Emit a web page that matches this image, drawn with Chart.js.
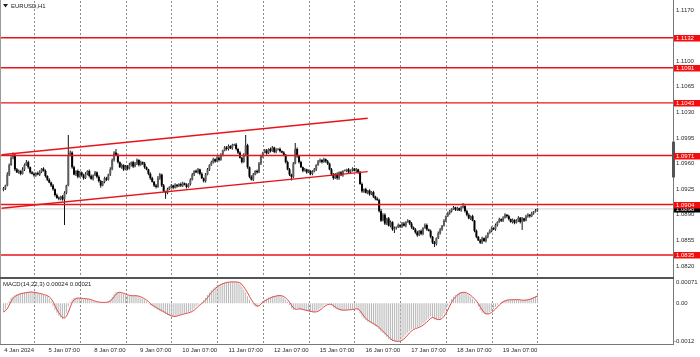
<!DOCTYPE html>
<html><head><meta charset="utf-8">
<script src="https://cdn.jsdelivr.net/npm/chart.js@4.4.1/dist/chart.umd.min.js"></script>
<style>html,body{margin:0;padding:0;background:#fff;overflow:hidden}canvas{display:block}</style>
</head><body>
<canvas id="c" width="700" height="357"></canvas>
<script>
// ---------- DATA ----------
const symbolTitle = 'EURUSD,H1';
const macdTitle = 'MACD(14,22,3)';
// time labels (one per trading day, at 07:00; last one is the latest bar)
const dayLabels = ['4 Jan 2024','5 Jan 07:00','8 Jan 07:00','9 Jan 07:00','10 Jan 07:00','11 Jan 07:00',
  '12 Jan 07:00','15 Jan 07:00','16 Jan 07:00','17 Jan 07:00','18 Jan 07:00','19 Jan 07:00'];
const priceTicks = [1.1170,1.1100,1.1065,1.1030,1.0995,1.0960,1.0925,1.0890,1.0855,1.0820];
const macdTicks = [0.00071, 0, -0.0012];
const levelPrices = [1.1132,1.1091,1.1043,1.0971,1.0904,1.0835];
// ascending channel: [bar index, price]
const channelUpper = [[-1,1.0972],[191,1.1022]];
const channelLower = [[-1,1.0899],[191,1.0949]];
const firstOpen = 1.0924;
// hourly closes, 3 Jan 15:00 .. 19 Jan 07:00
const closes = [
1.0926,1.0930,1.0945,1.0958,1.0968,1.0972,1.0952,1.0948,1.0950,1.0946,1.0952,1.0958,1.0962,1.0955,1.0948,1.0946,1.0944,1.0947,1.0945,1.0949,
1.0953,1.0950,1.0943,1.0938,1.0934,1.0930,1.0925,1.0917,1.0913,1.0912,1.0915,1.0911,1.0920,1.0930,1.0972,1.0975,1.0955,1.0945,1.0950,1.0942,
1.0948,1.0944,1.0940,1.0946,1.0950,1.0943,1.0939,1.0944,1.0948,1.0942,1.0936,1.0930,1.0935,1.0940,1.0938,1.0945,1.0952,1.0965,1.0975,1.0972,
1.0962,1.0955,1.0958,1.0952,1.0956,1.0953,1.0958,1.0962,1.0956,1.0960,1.0965,1.0958,1.0962,1.0960,1.0955,1.0952,1.0946,1.0940,1.0935,1.0930,
1.0928,1.0940,1.0945,1.0930,1.0922,1.0920,1.0925,1.0928,1.0930,1.0927,1.0931,1.0929,1.0932,1.0930,1.0933,1.0931,1.0928,1.0932,1.0938,1.0945,
1.0950,1.0948,1.0952,1.0946,1.0940,1.0936,1.0945,1.0952,1.0958,1.0962,1.0966,1.0963,1.0968,1.0965,1.0972,1.0978,1.0982,1.0980,1.0984,1.0981,
1.0985,1.0986,1.0980,1.0975,1.0968,1.0962,1.0972,1.0985,1.0955,1.0942,1.0938,1.0945,1.0950,1.0948,1.0960,1.0970,1.0975,1.0978,1.0974,1.0980,
1.0977,1.0982,1.0976,1.0979,1.0980,1.0977,1.0975,1.0972,1.0962,1.0952,1.0945,1.0942,1.0960,1.0980,1.0970,1.0962,1.0955,1.0950,1.0952,1.0948,
1.0950,1.0946,1.0949,1.0952,1.0958,1.0963,1.0965,1.0962,1.0966,1.0963,1.0960,1.0952,1.0945,1.0940,1.0946,1.0940,1.0948,1.0944,1.0950,1.0950,
1.0952,1.0948,1.0951,1.0953,1.0950,1.0952,1.0948,1.0932,1.0922,1.0925,1.0920,1.0923,1.0918,1.0921,1.0915,1.0912,1.0910,1.0895,1.0882,1.0890,
1.0878,1.0885,1.0875,1.0880,1.0870,1.0872,1.0873,1.0876,1.0874,1.0878,1.0875,1.0880,1.0882,1.0878,1.0873,1.0870,1.0866,1.0862,1.0868,1.0864,
1.0872,1.0876,1.0870,1.0868,1.0860,1.0852,1.0850,1.0858,1.0865,1.0870,1.0875,1.0882,1.0888,1.0892,1.0895,1.0898,1.0900,1.0897,1.0899,1.0896,
1.0900,1.0902,1.0895,1.0890,1.0885,1.0888,1.0882,1.0868,1.0860,1.0855,1.0852,1.0858,1.0854,1.0860,1.0865,1.0868,1.0872,1.0870,1.0876,1.0880,
1.0884,1.0882,1.0886,1.0890,1.0888,1.0884,1.0880,1.0883,1.0879,1.0882,1.0886,1.0880,1.0885,1.0882,1.0888,1.0890,1.0888,1.0892,1.0894,1.0896,
1.0898];
// wick lengths in pips above / below the candle body
const upperWick = [
2,1,3,2,2,3,1,2,2,1,3,2,3,2,1,2,2,1,2,2,
1,2,2,1,2,1,2,1,2,2,1,2,2,1,27,3,2,2,1,2,
2,1,2,2,1,2,2,1,2,1,2,2,1,2,2,1,3,2,2,5,
2,1,2,1,2,2,3,1,2,2,2,1,2,1,2,1,1,2,2,1,
2,3,2,1,2,1,2,1,2,1,2,1,1,2,2,1,2,1,2,2,
1,2,2,1,2,1,2,2,1,2,2,1,2,2,2,1,2,2,2,1,
2,1,2,1,2,1,2,14,2,1,2,2,1,2,2,2,1,2,2,1,
2,2,1,2,1,2,1,2,1,2,2,1,2,8,2,1,2,1,2,1,
2,1,2,2,1,2,2,1,2,1,2,1,2,2,1,2,1,2,1,2,
1,2,1,2,1,2,1,2,2,1,2,1,2,1,2,1,2,2,3,2,
2,1,2,2,1,2,1,2,1,2,2,1,2,1,2,1,2,2,1,2,
1,2,2,1,2,1,2,1,2,2,1,2,1,2,2,1,2,1,2,1,
2,4,1,2,2,1,2,1,2,1,2,2,1,2,1,2,2,1,2,1,
2,1,2,2,1,2,1,2,1,2,2,1,2,1,2,2,1,2,1,2,
1];
const lowerWick = [
2,2,1,2,1,2,2,1,2,2,1,2,1,2,2,1,2,2,1,2,
2,1,2,2,1,2,2,2,1,2,2,2,35,2,1,2,2,1,2,2,
1,2,2,1,2,2,1,2,1,2,2,3,1,2,2,1,2,1,2,1,
2,1,2,2,1,2,1,2,2,1,2,2,1,2,2,1,2,2,1,2,
2,1,2,2,1,8,2,1,2,2,1,2,1,2,2,1,2,1,2,1,
2,1,2,2,1,2,2,1,2,1,2,2,1,2,1,2,1,2,2,1,
2,1,2,2,1,2,1,2,2,2,1,2,1,2,1,2,2,1,2,1,
2,1,2,2,1,2,1,2,2,1,2,5,2,1,2,2,1,2,1,2,
1,2,2,1,2,1,2,2,1,2,2,1,2,2,1,2,2,1,2,1,
2,1,2,2,1,2,2,1,2,2,1,2,2,1,2,2,1,2,2,1,
2,2,1,2,2,5,2,1,2,2,1,2,1,2,2,1,2,2,1,2,
2,1,2,1,2,2,4,2,1,2,2,1,2,1,2,2,1,2,2,1,
2,1,2,2,1,2,1,2,2,1,2,2,1,2,2,1,2,1,2,2,
1,2,2,1,2,2,1,2,2,1,2,2,11,2,1,2,2,1,2,1,
2];
// MACD main line (histogram)
const macdMain = [
-0.00026,-0.00018,-0.00005,0.00006,0.00016,0.00020,0.00023,0.00026,0.00028,0.00029,0.00030,0.00031,0.00032,0.00033,0.00033,0.00032,0.00031,0.00030,0.00029,0.00027,
0.00026,0.00024,0.00022,0.00020,0.00014,0.00006,-0.00008,-0.00020,-0.00028,-0.00036,-0.00043,-0.00047,-0.00042,-0.00028,-0.00010,0.00004,0.00011,0.00015,0.00015,0.00015,
0.00014,0.00014,0.00013,0.00013,0.00012,0.00010,0.00008,0.00006,0.00004,0.00003,0.00003,0.00002,0.00002,0.00003,0.00003,0.00005,0.00011,0.00018,0.00027,0.00033,
0.00032,0.00031,0.00029,0.00027,0.00025,0.00023,0.00021,0.00022,0.00022,0.00022,0.00021,0.00019,0.00016,0.00013,0.00010,0.00005,-0.00001,-0.00006,-0.00009,-0.00013,
-0.00016,-0.00019,-0.00022,-0.00025,-0.00028,-0.00032,-0.00035,-0.00037,-0.00039,-0.00040,-0.00038,-0.00036,-0.00034,-0.00033,-0.00031,-0.00030,-0.00029,-0.00027,-0.00025,-0.00021,
-0.00016,-0.00010,-0.00005,0.00000,0.00003,0.00009,0.00016,0.00024,0.00031,0.00038,0.00043,0.00047,0.00052,0.00055,0.00057,0.00059,0.00061,0.00062,0.00062,0.00063,
0.00063,0.00062,0.00062,0.00061,0.00056,0.00049,0.00040,0.00031,0.00020,0.00010,0.00001,-0.00005,-0.00010,-0.00011,-0.00002,0.00003,0.00007,0.00010,0.00013,0.00016,
0.00018,0.00020,0.00021,0.00022,0.00023,0.00022,0.00020,0.00016,0.00010,0.00004,-0.00005,-0.00015,-0.00021,-0.00018,-0.00015,-0.00017,-0.00019,-0.00020,-0.00021,-0.00023,
-0.00024,-0.00025,-0.00027,-0.00026,-0.00024,-0.00021,-0.00016,-0.00011,-0.00006,-0.00004,-0.00003,-0.00002,-0.00006,-0.00013,-0.00016,-0.00018,-0.00020,-0.00021,-0.00021,-0.00020,
-0.00020,-0.00019,-0.00019,-0.00018,-0.00016,-0.00015,-0.00021,-0.00030,-0.00039,-0.00045,-0.00050,-0.00054,-0.00057,-0.00060,-0.00063,-0.00067,-0.00071,-0.00077,-0.00083,-0.00088,
-0.00093,-0.00099,-0.00106,-0.00109,-0.00111,-0.00112,-0.00113,-0.00112,-0.00110,-0.00106,-0.00100,-0.00093,-0.00087,-0.00081,-0.00077,-0.00075,-0.00073,-0.00071,-0.00069,-0.00065,
-0.00060,-0.00056,-0.00050,-0.00045,-0.00039,-0.00043,-0.00048,-0.00049,-0.00048,-0.00047,-0.00040,-0.00030,-0.00021,-0.00009,0.00004,0.00012,0.00019,0.00024,0.00028,0.00031,
0.00033,0.00032,0.00030,0.00027,0.00023,0.00019,0.00013,0.00006,0.00000,-0.00010,-0.00021,-0.00028,-0.00032,-0.00033,-0.00031,-0.00027,-0.00023,-0.00018,-0.00011,-0.00005,
0.00000,0.00004,0.00007,0.00009,0.00010,0.00010,0.00010,0.00010,0.00011,0.00010,0.00010,0.00009,0.00008,0.00009,0.00010,0.00011,0.00013,0.00016,0.00018,0.00021,
0.00024];
const macdSignalPeriod = 3;
const edgeMarker = [1.0941, 1.0990];

// ---------- DERIVED ----------
const pip = 0.0001;
const barIdx = closes.map((_, i) => i);
const opens = closes.map((c, i) => i === 0 ? firstOpen : closes[i - 1]);
const highs = closes.map((c, i) => Math.max(opens[i], c) + upperWick[i] * pip);
const lows = closes.map((c, i) => Math.min(opens[i], c) - lowerWick[i] * pip);
const macdSignal = macdMain.map((v, i) => {
  const s = macdMain.slice(Math.max(0, i - macdSignalPeriod + 1), i + 1);
  return s.reduce((a, b) => a + b, 0) / s.length;
});
const lastBar = closes.length - 1;
const currentPrice = closes[lastBar];
const firstLabelBar = lastBar - 24 * (dayLabels.length - 1);
const labelBars = dayLabels.map((_, k) => firstLabelBar + 24 * k);

// ---------- LAYOUT ----------
const X_MIN = -1.3, X_MAX = 351.1;
const Y_MIN = 1.08049, Y_MAX = 1.11823;
const M_MIN = -0.0012, M_MAX = 0.000769;
const FONT = '"Liberation Sans", Arial, sans-serif';
const TXT = '#2a2a2a';
const noPad = s => { s.paddingTop = 0; s.paddingBottom = 0; s.paddingLeft = 0; s.paddingRight = 0; };

const hline = (p, color, w, order) => ({
  type: 'line', yAxisID: 'y', order,
  data: [{x: X_MIN, y: p}, {x: X_MAX, y: p}],
  borderColor: color, borderWidth: w, pointRadius: 0, fill: false
});
const segLine = (pts) => ({
  type: 'line', yAxisID: 'y', order: 0,
  data: pts.map(p => ({x: p[0], y: p[1]})),
  borderColor: '#e8141c', borderWidth: 1.4, pointRadius: 0, fill: false
});

const overlay = {
  id: 'overlay',
  beforeDatasetsDraw(chart) {
    const {ctx, chartArea: a} = chart; const xs = chart.scales.x;
    ctx.save();
    ctx.strokeStyle = '#8c8c8c'; ctx.lineWidth = 1; ctx.setLineDash([2, 2]);
    labelBars.forEach(b => {
      const px = Math.round(xs.getPixelForValue(b)) + 0.5;
      ctx.beginPath(); ctx.moveTo(px, a.top); ctx.lineTo(px, a.bottom); ctx.stroke();
    });
    ctx.restore();
  },
  afterDraw(chart) {
    const {ctx, chartArea: a} = chart;
    const ys = chart.scales.y, ms = chart.scales.ym;
    ctx.save();
    // frames
    ctx.fillStyle = '#9a9a9a';
    ctx.fillRect(a.left - 1, 0, 1, a.bottom + 1);
    ctx.fillStyle = '#777';
    ctx.fillRect(a.right, 0, 1, a.bottom + 1);
    ctx.fillRect(a.left - 1, a.bottom, a.right - a.left + 2, 1);
    ctx.fillStyle = '#555';
    ctx.fillRect(a.left - 1, ys.bottom, a.right - a.left + 2, 2);
    // edge marker
    const m1 = ys.getPixelForValue(edgeMarker[1]), m0 = ys.getPixelForValue(edgeMarker[0]);
    ctx.fillStyle = '#555';
    ctx.fillRect(a.right - 1, m1, 3, m0 - m1);
    // MACD axis labels
    ctx.font = '6px ' + FONT; ctx.fillStyle = TXT; ctx.textBaseline = 'middle'; ctx.textAlign = 'left';
    macdTicks.forEach(v => {
      let y = ms.getPixelForValue(v);
      y = Math.min(Math.max(y, ms.top + 5), ms.bottom - 2.5);
      ctx.fillText(v === 0 ? '0.00' : String(v), a.right + (v < 0 ? 1 : 3), y);
    });
    // price boxes (current price first, level labels on top)
    const box = (p, bg) => {
      const y = Math.round(ys.getPixelForValue(p));
      ctx.fillStyle = bg; ctx.fillRect(a.right + 1, y - 3, 27, 6.5);
      ctx.fillStyle = '#fff'; ctx.fillText(p.toFixed(4), a.right + 3, y + 0.3);
    };
    box(currentPrice, '#000');
    levelPrices.forEach(p => box(p, '#f40c0c'));
    // titles
    ctx.fillStyle = '#222';
    ctx.beginPath(); ctx.moveTo(a.left + 2, 4); ctx.lineTo(a.left + 7, 4); ctx.lineTo(a.left + 4.5, 7.5); ctx.closePath(); ctx.fill();
    ctx.fillText(symbolTitle, a.left + 10, 6);
    ctx.fillText(macdTitle + ' ' + macdMain[lastBar].toFixed(5) + ' ' + macdSignal[lastBar].toFixed(5), a.left + 2, ms.top + 7);
    ctx.restore();
  }
};

new Chart(document.getElementById('c'), {
  type: 'bar',
  data: {
    datasets: [
      ...levelPrices.map(p => hline(p, '#e8141c', 1.4, 0)),
      hline(currentPrice, '#cfcfcf', 1, 5),
      segLine(channelUpper),
      segLine(channelLower),
      { type: 'bar', yAxisID: 'y', order: 3, grouped: false,
        data: barIdx.map(i => ({x: i, y: [lows[i], highs[i]]})),
        backgroundColor: '#111', barThickness: 1, inflateAmount: 0, borderWidth: 0 },
      { type: 'bar', yAxisID: 'y', order: 2, grouped: false,
        data: barIdx.map(i => ({x: i, y: [opens[i], closes[i]]})),
        backgroundColor: barIdx.map(i => closes[i] >= opens[i] ? '#5e5e5e' : '#000'),
        barThickness: 2, minBarLength: 1, inflateAmount: 0, borderWidth: 0 },
      { type: 'bar', yAxisID: 'ym', order: 3, grouped: false,
        data: barIdx.map(i => ({x: i, y: macdMain[i]})),
        backgroundColor: '#b8b8b8', barThickness: 1, inflateAmount: 0, borderWidth: 0 },
      { type: 'line', yAxisID: 'ym', order: 1,
        data: barIdx.map(i => ({x: i, y: macdSignal[i]})),
        borderColor: '#e04a4a', borderWidth: 1, pointRadius: 0, fill: false }
    ]
  },
  options: {
    responsive: false, animation: false, devicePixelRatio: 1,
    layout: {padding: {top: 1, left: 1, right: 0, bottom: 0}},
    plugins: {legend: {display: false}, tooltip: {enabled: false}},
    events: [],
    scales: {
      x: { type: 'linear', min: X_MIN, max: X_MAX, offset: false, bounds: 'data',
        grid: {display: false, drawTicks: false}, border: {display: false},
        afterBuildTicks: s => { s.ticks = labelBars.map(v => ({value: v})); },
        afterFit: s => { s.height = 13; noPad(s); },
        ticks: { autoSkip: false, maxRotation: 0, minRotation: 0, align: 'end', padding: 3,
          font: {family: FONT, size: 6}, color: TXT, callback: (v, i) => dayLabels[i] } },
      y: { type: 'linear', position: 'right', stack: 'pane', stackWeight: 276,
        min: Y_MIN, max: Y_MAX, bounds: 'data',
        grid: {display: false, drawTicks: false}, border: {display: false},
        afterBuildTicks: s => { s.ticks = priceTicks.map(v => ({value: v})); },
        afterFit: s => { s.width = 27; noPad(s); },
        ticks: { padding: 3, font: {family: FONT, size: 6}, color: TXT, callback: v => v.toFixed(4) } },
      ym: { type: 'linear', position: 'right', stack: 'pane', stackWeight: 67,
        min: M_MIN, max: M_MAX, bounds: 'data',
        grid: {display: false, drawTicks: false}, border: {display: false},
        afterFit: s => { s.width = 27; noPad(s); },
        ticks: {display: false} }
    }
  },
  plugins: [overlay]
});
</script>
</body></html>
